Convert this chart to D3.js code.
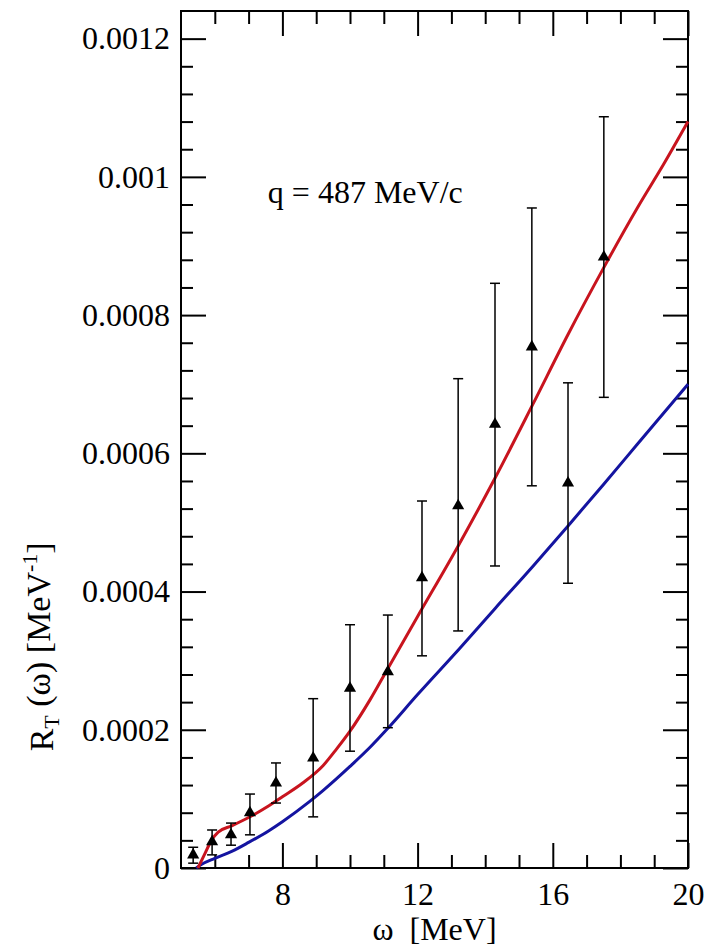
<!DOCTYPE html>
<html lang="en">
<head>
<meta charset="UTF-8">
<title>R_T response, q = 487 MeV/c</title>
<script src="https://cdn.jsdelivr.net/npm/d3@7"></script>
<style>
  body { margin: 0; background: #fff; }
</style>
</head>
<body>
<div id="chart"></div>
<script>
const FONT = "'Liberation Serif', 'DejaVu Serif', serif";

// experimental points (omega in MeV, R_T in MeV^-1) with error bar ends
const omega  = [5.36, 5.92, 6.48, 7.04, 7.81, 8.91, 10.0, 11.12, 12.13, 13.2, 14.29, 15.38, 16.45, 17.51];
const rt     = [0.000019, 0.000038, 0.000048, 0.000080, 0.000123, 0.000159, 0.000260, 0.000284, 0.000420, 0.000524, 0.000642, 0.000754, 0.000557, 0.000884];
const errLow = [0.000007, 0.000019, 0.000033, 0.000048, 0.000094, 0.000074, 0.000169, 0.000203, 0.000307, 0.000343, 0.000437, 0.000553, 0.000412, 0.000681];
const errHigh= [0.000030, 0.000055, 0.000065, 0.000107, 0.000152, 0.000245, 0.000352, 0.000366, 0.000531, 0.000708, 0.000846, 0.000955, 0.000702, 0.001087];

// red curve
const redW = [5.5, 5.7, 5.9, 6.1, 6.5, 7.0, 7.6, 8.0, 8.6, 9.2, 9.6, 10.0, 10.6, 11.1, 12.0, 13.2, 14.3, 15.4, 16.45, 17.5, 18.5, 19.3, 20.0];
const redR = [0, 0.00002, 0.00004, 0.000052, 0.000061, 0.000073, 0.00009, 0.000103, 0.000123, 0.000148, 0.000172, 0.000198, 0.000244, 0.000287, 0.000364, 0.000466, 0.000565, 0.00067, 0.000772, 0.000868, 0.000955, 0.00102, 0.00108];

// blue curve
const blueW = [5.45, 5.6, 6.0, 6.5, 7.0, 7.6, 8.0, 8.8, 9.2, 10.0, 10.6, 11.1, 12.0, 13.25, 14.3, 15.4, 16.45, 17.5, 18.5, 20.0];
const blueR = [0, 0.000005, 0.000014, 0.000024, 0.000037, 0.000054, 0.000067, 0.000096, 0.000112, 0.000147, 0.000175, 0.000201, 0.000251, 0.000318, 0.000376, 0.000436, 0.000495, 0.000555, 0.000613, 0.0007];

// tick labels
const xMajor = [8, 12, 16, 20];
const xLabels = ["8", "12", "16", "20"];
const yMajor = [0, 0.0002, 0.0004, 0.0006, 0.0008, 0.001, 0.0012];
const yLabels = ["0", "0.0002", "0.0004", "0.0006", "0.0008", "0.001", "0.0012"];

const margin = {top: 11, right: 23, bottom: 81, left: 181},
    width = 711 - margin.left - margin.right,
    height = 949 - margin.top - margin.bottom;

const svg = d3.select("#chart")
  .append("svg")
    .attr("width", 711)
    .attr("height", 949)
    .style("font-family", FONT)
  .append("g")
    .attr("transform", `translate(${margin.left},${margin.top})`);

const x = d3.scaleLinear().domain([5, 20]).range([0, width]);
const y = d3.scaleLinear().domain([0, 0.00124]).range([height, 0]);

// minor ticks
const xMinor = d3.range(6, 20, 1).filter(v => !xMajor.includes(v));
const yMinor = d3.range(1, 31).map(i => i * 0.00004).filter(v => !yMajor.some(m => Math.abs(m - v) < 1e-9));

function styleAxis(g) {
  g.attr("font-family", null);
  g.select(".domain").remove();
  g.selectAll(".tick line").attr("stroke", "#000").attr("stroke-width", 2);
  g.selectAll("text").style("font-family", FONT).attr("fill", "#000");
}

// bottom axis
svg.append("g")
  .attr("transform", `translate(0,${height})`)
  .call(d3.axisBottom(x).tickValues(xMajor).tickSize(-25).tickPadding(14)
        .tickFormat((d, i) => xLabels[i]))
  .call(styleAxis)
  .selectAll("text").style("font-size", "32px").attr("dy", "0.71em");
svg.append("g")
  .attr("transform", `translate(0,${height})`)
  .call(d3.axisBottom(x).tickValues(xMinor).tickSize(-13).tickFormat(""))
  .call(styleAxis);

// top axis (mirror)
svg.append("g")
  .call(d3.axisTop(x).tickValues(xMajor).tickSize(-25).tickFormat(""))
  .call(styleAxis);
svg.append("g")
  .call(d3.axisTop(x).tickValues(xMinor).tickSize(-13).tickFormat(""))
  .call(styleAxis);

// left axis
svg.append("g")
  .call(d3.axisLeft(y).tickValues(yMajor).tickSize(-25).tickPadding(11)
        .tickFormat((d, i) => yLabels[i]))
  .call(styleAxis)
  .selectAll("text").style("font-size", "32px");
svg.append("g")
  .call(d3.axisLeft(y).tickValues(yMinor).tickSize(-12).tickFormat(""))
  .call(styleAxis);

// right axis (mirror)
svg.append("g")
  .attr("transform", `translate(${width},0)`)
  .call(d3.axisRight(y).tickValues(yMajor).tickSize(-25).tickFormat(""))
  .call(styleAxis);
svg.append("g")
  .attr("transform", `translate(${width},0)`)
  .call(d3.axisRight(y).tickValues(yMinor).tickSize(-12).tickFormat(""))
  .call(styleAxis);

// frame
svg.append("rect")
  .attr("width", width)
  .attr("height", height)
  .attr("fill", "none")
  .attr("stroke", "#000")
  .attr("stroke-width", 2);

// curves
const line = d3.line()
  .x(d => x(d[0]))
  .y(d => y(d[1]))
  .curve(d3.curveMonotoneX);

svg.append("path")
  .datum(blueW.map((w, i) => [w, blueR[i]]))
  .attr("fill", "none")
  .attr("stroke", "#1414a0")
  .attr("stroke-width", 3)
  .attr("d", line);

svg.append("path")
  .datum(redW.map((w, i) => [w, redR[i]]))
  .attr("fill", "none")
  .attr("stroke", "#c8141e")
  .attr("stroke-width", 3)
  .attr("d", line);

// error bars
const pts = omega.map((w, i) => ({w: w, r: rt[i], lo: errLow[i], hi: errHigh[i]}));
const bars = svg.append("g").attr("stroke", "#000").attr("stroke-width", 1.5);
pts.forEach(function(d) {
  bars.append("line")
    .attr("x1", x(d.w)).attr("x2", x(d.w))
    .attr("y1", y(d.lo)).attr("y2", y(d.hi));
  bars.append("line")
    .attr("x1", x(d.w) - 5).attr("x2", x(d.w) + 5)
    .attr("y1", y(d.lo)).attr("y2", y(d.lo));
  bars.append("line")
    .attr("x1", x(d.w) - 5).attr("x2", x(d.w) + 5)
    .attr("y1", y(d.hi)).attr("y2", y(d.hi));
});

// triangles
svg.selectAll(".pt")
  .data(pts)
  .enter()
  .append("path")
    .attr("class", "pt")
    .attr("d", d3.symbol().type(d3.symbolTriangle).size(64))
    .attr("transform", d => `translate(${x(d.w)},${y(d.r)})`)
    .attr("fill", "#000");

// annotation
svg.append("text")
  .attr("x", x(7.57))
  .attr("y", y(0.000962))
  .style("font-family", FONT)
  .style("font-size", "32px")
  .text("q = 487 MeV/c");

// x label
svg.append("text")
  .attr("x", width / 2)
  .attr("y", height + 72)
  .attr("text-anchor", "middle")
  .style("font-family", FONT)
  .style("font-size", "32px")
  .style("white-space", "pre")
  .text("ω  [MeV]");

// y label
const yl = svg.append("text")
  .attr("transform", `translate(${53 - margin.left},${y(0.00032)}) rotate(-90)`)
  .attr("text-anchor", "middle")
  .style("font-family", FONT)
  .style("font-size", "34px");
yl.append("tspan").text("R");
yl.append("tspan").attr("dy", "0.25em").style("font-size", "22px").text("T");
yl.append("tspan").attr("dy", "-0.25em").text(" (ω) [MeV");
yl.append("tspan").attr("dy", "-0.6em").style("font-size", "22px").text("-1");
yl.append("tspan").attr("dy", "0.4em").text("]");
</script>
</body>
</html>
